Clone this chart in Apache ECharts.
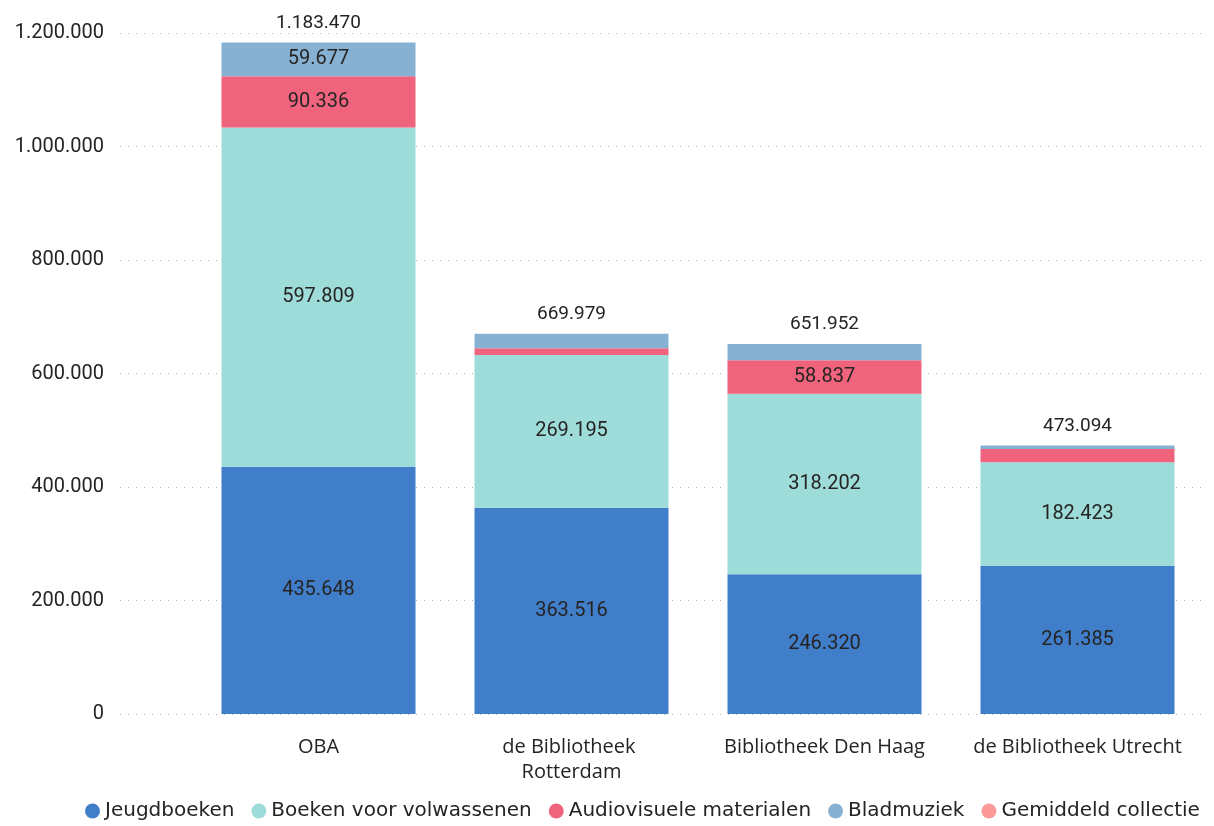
<!DOCTYPE html>
<html>
<head>
<meta charset="utf-8">
<script src="https://cdn.jsdelivr.net/npm/echarts@6/dist/echarts.min.js"></script>
<style>
  html, body { margin: 0; padding: 0; background: #fff; }
  #chart { width: 1214px; height: 826px; }
</style>
</head>
<body>
<div id="chart"></div>
<script>
const categories = ['OBA', 'de Bibliotheek Rotterdam', 'Bibliotheek Den Haag', 'de Bibliotheek Utrecht']
const jeugdboeken = [435648, 363516, 246320, 261385]
const boekenVolwassenen = [597809, 269195, 318202, 182423]
const audiovisueel = [90336, 11600, 58837, 23000]
const bladmuziek = [59677, 25668, 28593, 6286]
const gemiddeld = []
const yTicks = [0, 200000, 400000, 600000, 800000, 1000000, 1200000]

const totals = categories.map((c, i) => jeugdboeken[i] + boekenVolwassenen[i] + audiovisueel[i] + bladmuziek[i])

function fmt(v) {
  return String(v).replace(/\B(?=(\d{3})+(?!\d))/g, '.')
}

const numFont = 'Roboto'
const textFont = 'Open Sans'
const textColor = '#252423'

function stackSeries(name, data, color) {
  return {
    name: name,
    type: 'bar',
    stack: 'total',
    xAxisIndex: 1,
    yAxisIndex: 1,
    barWidth: 194,
    data: data,
    itemStyle: {color: color},
    label: {
      show: true,
      position: 'inside',
      color: textColor,
      fontFamily: numFont,
      fontSize: 20,
      formatter: p => p.value >= 30000 ? fmt(p.value) : ''
    }
  }
}

let myEchart = echarts.init(document.getElementById('chart'))
myEchart.setOption({
  animation: false,
  legend: {
    bottom: 0,
    left: 80,
    itemGap: 17,
    itemWidth: 15,
    itemHeight: 15,
    icon: 'circle',
    textStyle: {fontFamily: 'DejaVu Sans', fontSize: 20, color: textColor},
    data: ['Jeugdboeken', 'Boeken voor volwassenen', 'Audiovisuele materialen', 'Bladmuziek', 'Gemiddeld collectie']
  },
  grid: [
    {left: 120, right: 10, top: 33, bottom: 112},
    {left: 192, right: 10, top: 33, bottom: 112}
  ],
  xAxis: [
    {gridIndex: 0, type: 'category', data: categories, show: false},
    {
      gridIndex: 1,
      type: 'category',
      data: categories,
      axisLine: {show: false},
      axisTick: {show: false},
      axisLabel: {
        margin: 21,
        fontFamily: textFont,
        fontSize: 20,
        color: textColor,
        lineHeight: 25,
        width: 238,
        overflow: 'break',
        interval: 0
      }
    }
  ],
  yAxis: [
    {
      gridIndex: 0,
      type: 'value',
      min: yTicks[0],
      max: yTicks[yTicks.length - 1],
      interval: 200000,
      axisLabel: {
        fontFamily: numFont,
        fontSize: 20,
        color: textColor,
        margin: 16,
        formatter: v => fmt(v)
      },
      splitLine: {lineStyle: {type: [1, 7], color: '#b0b0b0', width: 1}}
    },
    {
      gridIndex: 1,
      type: 'value',
      min: yTicks[0],
      max: yTicks[yTicks.length - 1],
      interval: 200000,
      show: false,
      splitLine: {show: false}
    }
  ],
  series: [
    stackSeries('Jeugdboeken', jeugdboeken, '#417ECA'),
    stackSeries('Boeken voor volwassenen', boekenVolwassenen, '#9EDCD9'),
    stackSeries('Audiovisuele materialen', audiovisueel, '#F0637D'),
    stackSeries('Bladmuziek', bladmuziek, '#87B1D3'),
    {
      name: 'Totaal',
      type: 'bar',
      stack: 'total',
      xAxisIndex: 1,
      yAxisIndex: 1,
      barWidth: 194,
      data: totals.map(() => 0),
      itemStyle: {color: 'transparent'},
      label: {
        show: true,
        position: 'top',
        distance: 10,
        color: textColor,
        fontFamily: numFont,
        fontSize: 19,
        formatter: p => fmt(totals[p.dataIndex])
      }
    },
    {
      name: 'Gemiddeld collectie',
      type: 'line',
      xAxisIndex: 1,
      yAxisIndex: 1,
      data: gemiddeld,
      itemStyle: {color: '#FB9A99'}
    }
  ]
})
</script>
</body>
</html>
